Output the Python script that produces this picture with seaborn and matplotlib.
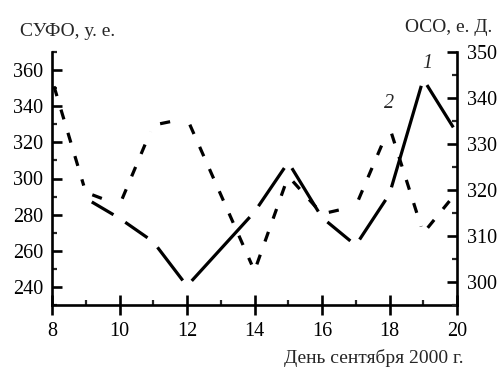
import numpy as np
import pandas as pd
import matplotlib
matplotlib.use("Agg")
import matplotlib.pyplot as plt
import seaborn as sns
from matplotlib.ticker import MultipleLocator

# ---- data ----
days_sufo = [9, 10, 11, 12, 14, 15, 16, 17, 18, 19, 20]
sufo = [289, 278, 265, 240.5, 281.5, 309, 278.4, 263, 291.4, 355, 325]
days_oso = [8, 9, 10, 11, 12, 14, 15, 16, 17, 18, 19, 20]
oso = [344, 319.5, 316.7, 334.1, 335.6, 302.4, 323, 314.8, 316.5, 333.7, 310.6, 319.6]

x_ticks = [8, 10, 12, 14, 16, 18, 20]
left_ticks = [240, 260, 280, 300, 320, 340, 360]
right_ticks = [300, 310, 320, 330, 340, 350]

left_title = "СУФО, у. е."
right_title = "ОСО, е. Д."
x_title = "День сентября 2000 г."

sns.set_style("ticks")
plt.rcParams["font.family"] = ["Liberation Serif", "DejaVu Serif"]

W, H, DPI = 501, 367, 100
fig = plt.figure(figsize=(W / DPI, H / DPI), dpi=DPI)
ax = fig.add_axes([52 / W, 1 - 305 / H, (457 - 52) / W, (305 - 52) / H])
ax2 = ax.twinx()

ax.set_xlim(8, 20)
ax.set_ylim(230, 370)
ax2.set_ylim(295, 350)

GAP = 7  # px gap around each data point (Origin style)


def trimmed(axis, xs, ys, gap):
    pts = axis.transData.transform(np.column_stack([xs, ys]))
    inv = axis.transData.inverted()
    rows = []
    for i in range(len(pts) - 1):
        a, b = pts[i], pts[i + 1]
        d = b - a
        u = d / np.hypot(*d)
        da, db = inv.transform(np.array([a + u * gap, b - u * gap]))
        rows.append(dict(x=da[0], y=da[1], seg=i))
        rows.append(dict(x=db[0], y=db[1], seg=i))
    return pd.DataFrame(rows)


df1 = trimmed(ax, days_sufo, sufo, GAP)
df2 = trimmed(ax2, days_oso, oso, GAP)

sns.lineplot(data=df1, x="x", y="y", units="seg", estimator=None, sort=False,
             ax=ax, color="black", lw=2.3, solid_capstyle="butt", legend=False)
sns.lineplot(data=df2, x="x", y="y", units="seg", estimator=None, sort=False,
             ax=ax2, color="black", lw=2.3, linestyle=(0, (3.2, 4.4)),
             dash_capstyle="butt", legend=False)

ax.set_xlabel("")
ax.set_ylabel("")
ax2.set_ylabel("")

# spines
for s in ["top", "right"]:
    ax.spines[s].set_visible(False)
for s in ["top", "left", "bottom"]:
    ax2.spines[s].set_visible(False)
for sp in [ax.spines["left"], ax.spines["bottom"], ax2.spines["right"]]:
    sp.set_linewidth(1.9)
    sp.set_color("black")

ax.set_xticks(x_ticks)
ax.set_xticklabels([str(v) for v in x_ticks])
ax.xaxis.set_minor_locator(MultipleLocator(1))
ax.set_yticks(left_ticks)
ax.set_yticklabels([str(v) for v in left_ticks])
ax.yaxis.set_minor_locator(MultipleLocator(10))
ax2.set_yticks(right_ticks)
ax2.set_yticklabels([str(v) for v in right_ticks])
ax2.yaxis.set_minor_locator(MultipleLocator(5))

FS = 14.5
ax.tick_params(axis="x", which="major", direction="inout", length=14.4, width=1.9,
               labelsize=FS, pad=5, colors="black")
ax.tick_params(axis="x", which="minor", direction="in", length=3.6, width=1.6)
ax.tick_params(axis="y", which="major", direction="in", length=7, width=1.9,
               labelsize=FS, pad=6.5, colors="black")
ax.tick_params(axis="y", which="minor", direction="in", length=3.6, width=1.6)
ax2.tick_params(axis="y", which="major", direction="in", length=7, width=1.9,
                labelsize=FS, pad=7.5, colors="black")
ax2.tick_params(axis="y", which="minor", direction="in", length=3.6, width=1.6)

ax.patch.set_visible(False)

# curve labels
ax.text(19.12, 363.9, "1", fontsize=FS, style="italic", ha="center", va="center")
ax.text(18.0, 341.7, "2", fontsize=FS, style="italic", ha="center", va="center")

# axis titles
fig.text(20 / W, 1 - 32 / H, left_title, fontsize=14, ha="left", va="center")
fig.text(492 / W, 1 - 27 / H, right_title, fontsize=14, ha="right", va="center")
fig.text(463 / W, 1 - 363 / H, x_title, fontsize=14, ha="right", va="baseline")

fig.savefig("out.png", dpi=DPI)
